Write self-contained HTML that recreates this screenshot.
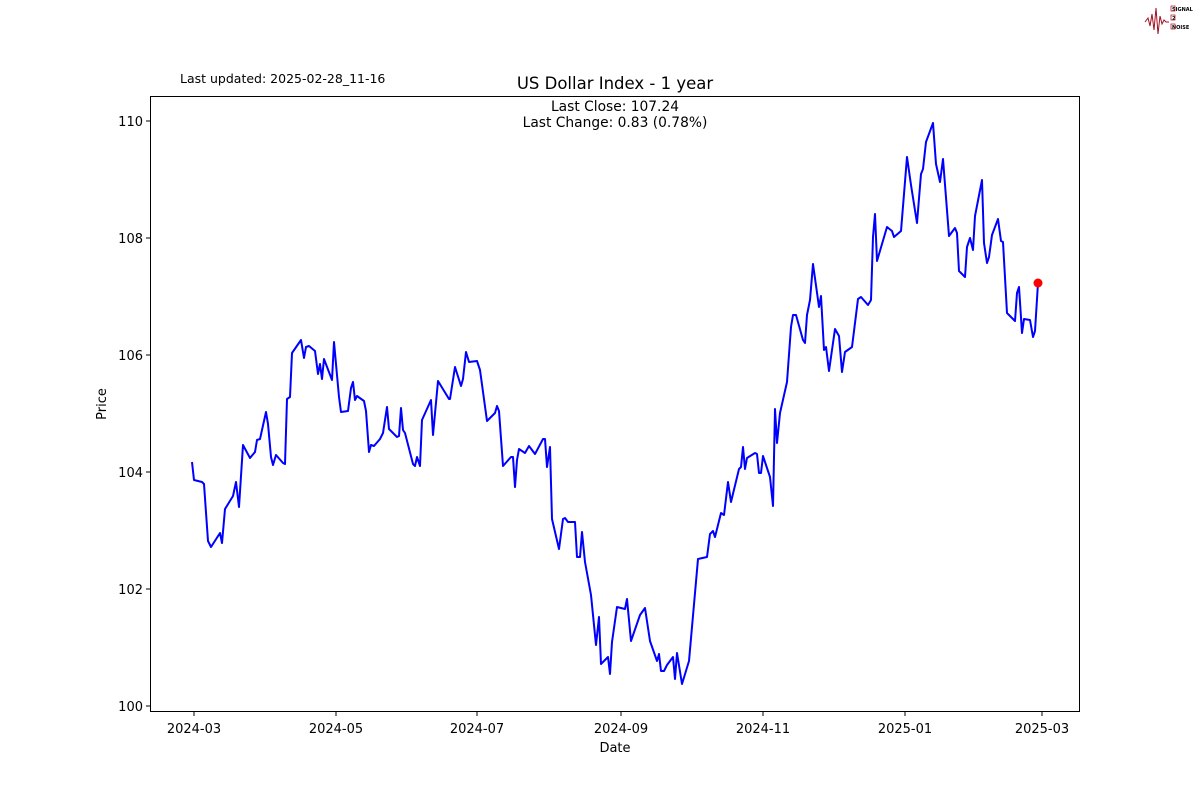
<!DOCTYPE html>
<html><head><meta charset="utf-8"><style>
body{margin:0;background:#fff;}
svg text{font-family:"DejaVu Sans","Liberation Sans",sans-serif;fill:#000;}
</style></head><body>
<svg width="1200" height="800" xmlns="http://www.w3.org/2000/svg">
<rect width="1200" height="800" fill="#fff"/>
<polyline points="1145,22 1148,18 1150,26 1152,14 1154,30 1156,8 1158,34 1160,16 1162,24 1164,20 1166,22 1169,22" fill="none" stroke="#a01020" stroke-width="1"/>
<text x="1172" y="11" font-size="5" font-weight="bold">SIGNAL</text>
<text x="1172" y="20" font-size="5" font-weight="bold">2</text>
<text x="1172" y="29" font-size="5" font-weight="bold">NOISE</text>
<rect x="1171" y="6" width="4" height="5" fill="none" stroke="#a01020" stroke-width="0.7"/>
<rect x="1171" y="15" width="4" height="5" fill="none" stroke="#a01020" stroke-width="0.7"/>
<rect x="1171" y="24" width="4" height="5" fill="none" stroke="#a01020" stroke-width="0.7"/>
<text x="180" y="83" font-size="12.5">Last updated: 2025-02-28_11-16</text>
<text x="615" y="89" font-size="16.5" text-anchor="middle">US Dollar Index - 1 year</text>
<text x="615" y="111" font-size="13.8" text-anchor="middle">Last Close: 107.24</text>
<text x="615" y="127" font-size="13.8" text-anchor="middle">Last Change: 0.83 (0.78%)</text>
<rect x="150.5" y="96.5" width="929" height="615" fill="none" stroke="#000" stroke-width="1"/>
<g stroke="#000" stroke-width="1">
<line x1="150" x2="146" y1="706" y2="706"/><line x1="150" x2="146" y1="589" y2="589"/><line x1="150" x2="146" y1="472" y2="472"/><line x1="150" x2="146" y1="355" y2="355"/><line x1="150" x2="146" y1="238" y2="238"/><line x1="150" x2="146" y1="121" y2="121"/>
<line y1="712" y2="716" x1="194" x2="194"/><line y1="712" y2="716" x1="336" x2="336"/><line y1="712" y2="716" x1="477" x2="477"/><line y1="712" y2="716" x1="621" x2="621"/><line y1="712" y2="716" x1="763" x2="763"/><line y1="712" y2="716" x1="905" x2="905"/><line y1="712" y2="716" x1="1042" x2="1042"/>
</g>
<g font-size="13" text-anchor="end">
<text x="143" y="711">100</text><text x="143" y="594">102</text><text x="143" y="477">104</text><text x="143" y="360">106</text><text x="143" y="243">108</text><text x="143" y="126">110</text>
</g>
<g font-size="13" text-anchor="middle">
<text x="194" y="733">2024-03</text><text x="336" y="733">2024-05</text><text x="477" y="733">2024-07</text><text x="621" y="733">2024-09</text><text x="763" y="733">2024-11</text><text x="905" y="733">2025-01</text><text x="1042" y="733">2025-03</text>
<text x="615" y="752">Date</text>
</g>
<text x="106" y="404" font-size="13" text-anchor="middle" transform="rotate(-90 106 404)">Price</text>
<polyline fill="none" stroke="#0000ff" stroke-width="2" stroke-linejoin="round" points="192,462 194,480 202,482 204,484 208,541 211,547 220,533 222,543 225,509 233,496 236,482 239,507 243,445 250,458 255,452 257,440 260,439 266,412 268,424 271,457 273,465 276,455 283,463 285,464 287,399 290,397 292,353 301,340 304,358 306,347 309,346 315,351 318,374 320,364 322,379 324,359 332,380 334,342 339,397 341,412 348,411 351,388 353,382 355,400 357,396 364,401 366,411 369,452 371,445 374,446 380,439 383,433 387,407 389,429 397,437 399,436 401,408 403,430 405,433 413,464 415,466 417,457 420,466 422,420 431,400 433,435 438,381 449,399 450,399 455,367 461,386 463,379 466,352 469,362 477,361 480,370 487,421 495,413 497,406 499,411 503,466 511,457 513,457 515,487 517,460 519,449 525,453 529,446 535,454 543,439 545,439 547,467 550,447 552,519 559,549 563,519 565,518 568,522 575,522 577,557 580,557 582,532 585,562 591,595 596,645 599,617 601,664 608,657 610,674 612,642 617,607 625,609 627,599 631,641 640,615 645,608 650,641 657,661 659,654 661,671 664,671 667,665 673,657 675,679 677,653 682,684 689,661 698,559 707,557 710,534 713,531 715,537 721,513 724,515 728,482 731,502 739,469 741,467 743,447 745,469 747,458 755,453 757,454 759,473 761,473 763,456 770,477 773,506 775,409 777,443 780,413 787,382 791,327 793,315 796,315 803,340 805,343 807,315 810,300 813,264 819,307 821,296 824,350 826,347 829,371 835,329 839,336 842,372 845,352 852,347 858,299 861,297 868,305 871,300 873,237 875,214 877,261 887,227 892,231 894,237 901,231 907,157 911,185 917,223 921,174 923,169 926,142 933,123 936,164 940,182 943,159 949,236 955,228 957,233 959,271 965,277 967,247 970,238 973,250 975,216 982,180 984,243 987,263 989,257 992,235 998,219 1001,241 1003,242 1007,313 1015,321 1017,293 1019,287 1022,333 1024,319 1030,320 1033,337 1035,331 1038,283"/>
<circle cx="1038" cy="283" r="4.5" fill="#ff0000"/>
</svg>
</body></html>
